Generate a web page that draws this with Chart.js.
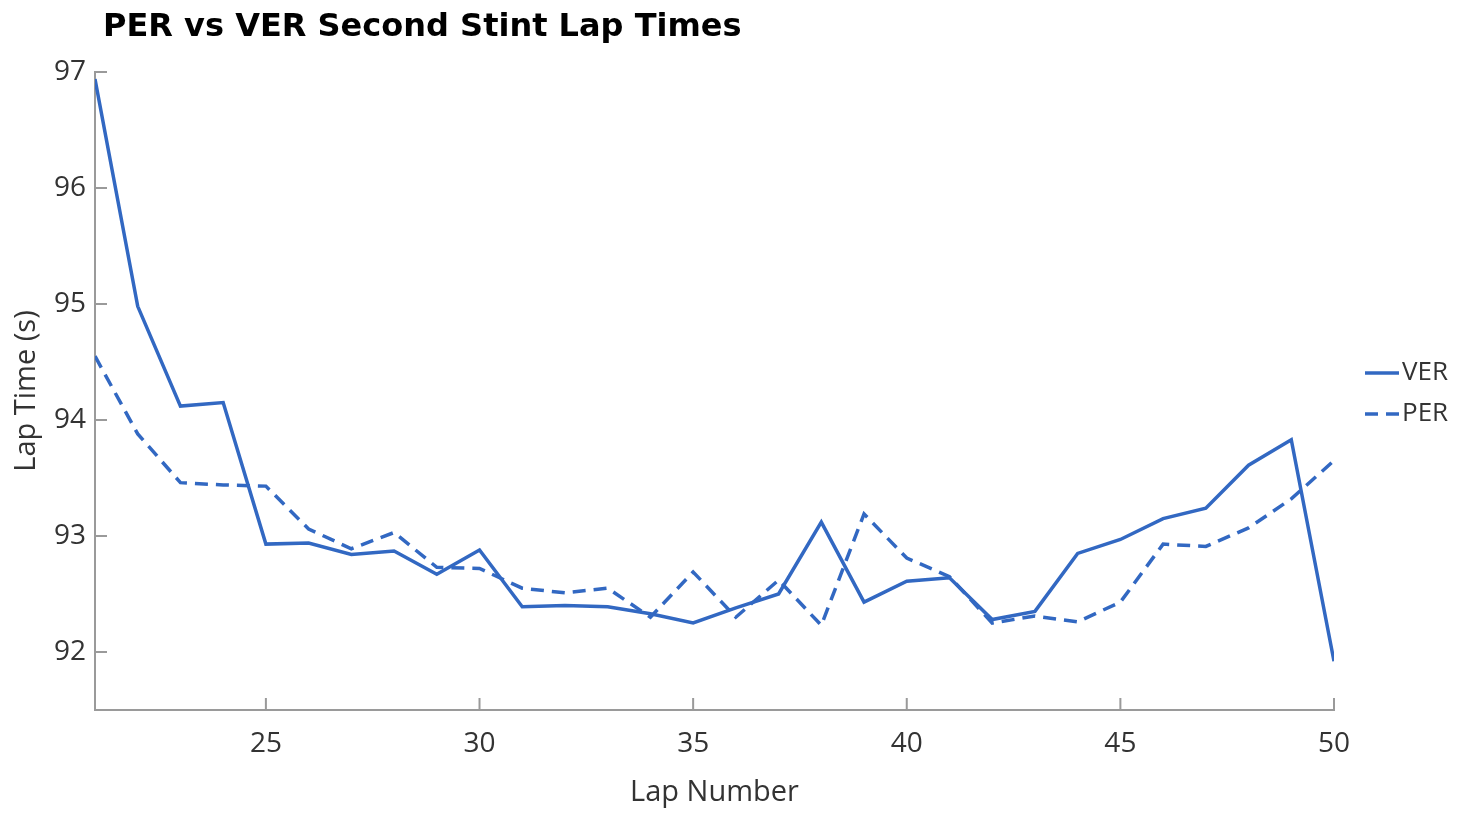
<!DOCTYPE html>
<html>
<head>
<meta charset="utf-8">
<title>PER vs VER Second Stint Lap Times</title>
<script src="https://cdn.jsdelivr.net/npm/chart.js@4.4.1/dist/chart.umd.min.js"></script>
<style>
    html, body { margin: 0; padding: 0; background: #ffffff; }
    #wrap { position: relative; width: 1460px; height: 822px; }
</style>
</head>
<body>
<div id="wrap"><canvas id="lapChart"></canvas></div>
<script>
// Lap times for the second stint
const laps = [21, 22, 23, 24, 25, 26, 27, 28, 29, 30, 31, 32, 33, 34, 35,
              36, 37, 38, 39, 40, 41, 42, 43, 44, 45, 46, 47, 48, 49, 50];
const verTimes = [96.94, 94.98, 94.12, 94.15, 92.93, 92.94, 92.84, 92.87, 92.67, 92.88,
                  92.39, 92.40, 92.39, 92.33, 92.25, 92.38, 92.50, 93.12, 92.43, 92.61,
                  92.64, 92.28, 92.35, 92.85, 92.97, 93.15, 93.24, 93.61, 93.83, 91.92];
const perTimes = [94.55, 93.88, 93.46, 93.44, 93.43, 93.06, 92.89, 93.03, 92.73, 92.72,
                  92.55, 92.51, 92.55, 92.30, 92.69, 92.30, 92.62, 92.23, 93.19, 92.81,
                  92.65, 92.25, 92.31, 92.26, 92.43, 92.93, 92.91, 93.07, 93.32, 93.65];
const xTicks = [25, 30, 35, 40, 45, 50];
const yTicks = [92, 93, 94, 95, 96, 97];

const lineColor = '#3268c2';
const axisColor = '#9a9a9a';
const textColor = '#333333';
const fontFamily = '"Open Sans", "Noto Sans", sans-serif';

// Ticks point into the plot area, so draw them ourselves from the scales
const innerTicks = {
    id: 'innerTicks',
    afterDatasetsDraw(chart) {
        const ctx = chart.ctx;
        const x = chart.scales.x;
        const y = chart.scales.y;
        const len = 12;
        ctx.save();
        ctx.strokeStyle = axisColor;
        ctx.lineWidth = 2;
        ctx.beginPath();
        x.ticks.forEach(t => {
            const px = x.getPixelForValue(t.value);
            ctx.moveTo(px, x.top);
            ctx.lineTo(px, x.top - len);
        });
        y.ticks.forEach(t => {
            const py = y.getPixelForValue(t.value);
            ctx.moveTo(y.right, py);
            ctx.lineTo(y.right + len, py);
        });
        ctx.stroke();
        ctx.restore();
    }
};

// Title in the top-left corner
const cornerTitle = {
    id: 'cornerTitle',
    afterDraw(chart) {
        const ctx = chart.ctx;
        ctx.save();
        ctx.fillStyle = '#000000';
        ctx.font = 'bold 32px "DejaVu Sans", sans-serif';
        ctx.textBaseline = 'middle';
        ctx.textAlign = 'left';
        ctx.fillText('PER vs VER Second Stint Lap Times', 103, 28);
        ctx.restore();
    }
};

// Legend at the right of the plot, built from the datasets
const sideLegend = {
    id: 'sideLegend',
    afterDraw(chart) {
        const ctx = chart.ctx;
        const rows = [373, 414];
        ctx.save();
        ctx.font = '26px ' + fontFamily;
        ctx.textBaseline = 'middle';
        ctx.textAlign = 'left';
        chart.data.datasets.forEach((ds, i) => {
            const yy = rows[i];
            ctx.strokeStyle = ds.borderColor;
            ctx.lineWidth = ds.borderWidth;
            ctx.setLineDash(ds.borderDash || []);
            ctx.beginPath();
            ctx.moveTo(1365, yy);
            ctx.lineTo(1399, yy);
            ctx.stroke();
            ctx.setLineDash([]);
            ctx.fillStyle = textColor;
            ctx.fillText(ds.label, 1402, yy);
        });
        ctx.restore();
    }
};

document.addEventListener('DOMContentLoaded', function() {
    const ctx = document.getElementById('lapChart').getContext('2d');

    const data = {
        datasets: [{
            label: 'VER',
            data: laps.map((lap, i) => ({ x: lap, y: verTimes[i] })),
            borderColor: lineColor,
            borderWidth: 3.5,
            pointRadius: 0,
            tension: 0
        }, {
            label: 'PER',
            data: laps.map((lap, i) => ({ x: lap, y: perTimes[i] })),
            borderColor: lineColor,
            borderWidth: 3.5,
            borderDash: [13, 8],
            pointRadius: 0,
            tension: 0
        }]
    };

    const config = {
        type: 'line',
        data: data,
        options: {
            responsive: true,
            maintainAspectRatio: false,
            animation: false,
            layout: {
                padding: { top: 72, right: 126, bottom: 0, left: 0 }
            },
            plugins: {
                legend: { display: false },
                title: { display: false },
                tooltip: { enabled: false }
            },
            scales: {
                x: {
                    type: 'linear',
                    min: 21,
                    max: 50,
                    afterBuildTicks: scale => { scale.ticks = xTicks.map(v => ({ value: v })); },
                    afterFit: scale => { scale.height = 112; },
                    grid: { display: false, drawTicks: false },
                    border: { color: axisColor, width: 2 },
                    ticks: {
                        color: textColor,
                        padding: 17,
                        maxRotation: 0,
                        font: { family: fontFamily, size: 28 }
                    },
                    title: {
                        display: true,
                        text: 'Lap Number',
                        color: textColor,
                        font: { family: fontFamily, size: 29 },
                        padding: { top: 0, bottom: 12 }
                    }
                },
                y: {
                    type: 'linear',
                    min: 91.5,
                    max: 97,
                    afterBuildTicks: scale => { scale.ticks = yTicks.map(v => ({ value: v })); },
                    afterFit: scale => { scale.width = 95; },
                    grid: { display: false, drawTicks: false },
                    border: { color: axisColor, width: 2 },
                    ticks: {
                        color: textColor,
                        padding: 9,
                        font: { family: fontFamily, size: 28 }
                    },
                    title: {
                        display: true,
                        text: 'Lap Time (s)',
                        color: textColor,
                        font: { family: fontFamily, size: 29 },
                        padding: { top: 9, bottom: 0 }
                    }
                }
            }
        },
        plugins: [innerTicks, cornerTitle, sideLegend]
    };

    const lapChart = new Chart(ctx, config);
});
</script>
</body>
</html>
